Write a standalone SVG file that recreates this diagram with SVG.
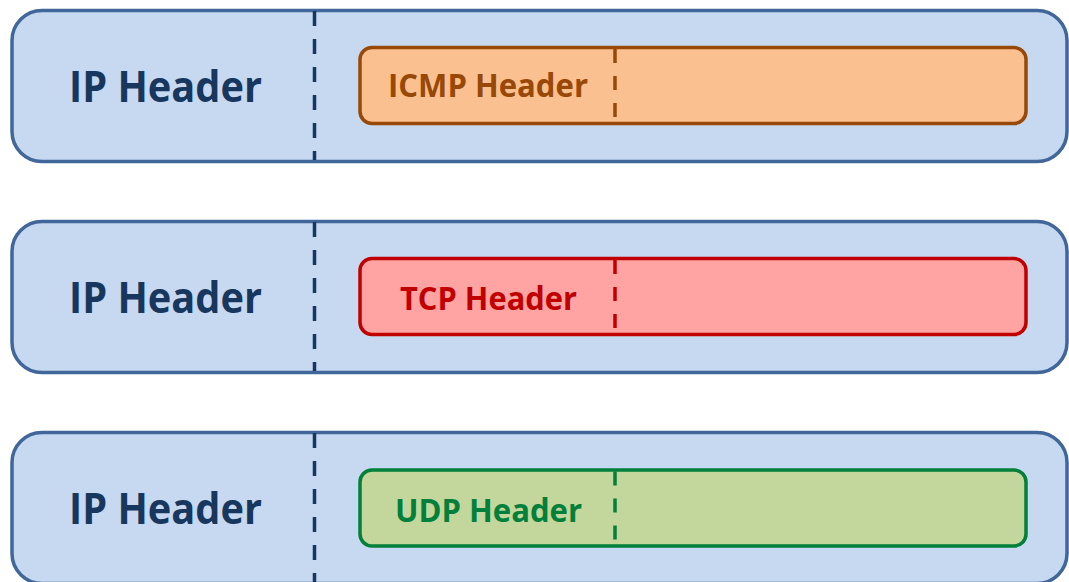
<svg xmlns="http://www.w3.org/2000/svg" width="1069" height="582" viewBox="0 0 1069 582">
  <style>
    .ip { fill: #C6D9F1; stroke: #41679A; stroke-width: 3.5; }
    .ipdiv { stroke: #17375E; stroke-width: 3.5; stroke-dasharray: 15 13; fill: none; }
    .iptxt { font-family: "Open Sans", "Liberation Sans", sans-serif; font-weight: bold; font-size: 43px; fill: #17375E; }
    .sub { stroke-width: 3.5; }
    .subdiv { stroke-width: 3.5; stroke-dasharray: 14 13; fill: none; }
    .subtxt { font-family: "Open Sans", "Liberation Sans", sans-serif; font-weight: bold; font-size: 32px; }
    .icmp { fill: #FAC090; stroke: #984807; }
    .tcp { fill: #FFA3A3; stroke: #C00000; }
    .udp { fill: #C3D69B; stroke: #00803A; }
  </style>

  <!-- Packet 1: IP + ICMP -->
  <g id="packet-icmp">
    <rect class="ip" x="12" y="10.5" width="1055" height="151" rx="30"/>
    <line class="ipdiv" x1="314.5" y1="11" x2="314.5" y2="160"/>
    <text class="iptxt" x="69" y="102" textLength="193" lengthAdjust="spacingAndGlyphs">IP Header</text>
    <g id="icmp-header">
      <rect class="sub icmp" x="360" y="47.5" width="666" height="76" rx="12"/>
      <line class="subdiv icmp" x1="615" y1="49" x2="615" y2="122"/>
      <text class="subtxt" fill="#984807" x="388" y="97" textLength="200" lengthAdjust="spacingAndGlyphs">ICMP Header</text>
    </g>
  </g>

  <!-- Packet 2: IP + TCP -->
  <g id="packet-tcp">
    <rect class="ip" x="12" y="221.5" width="1055" height="151" rx="30"/>
    <line class="ipdiv" x1="314.5" y1="222" x2="314.5" y2="371"/>
    <text class="iptxt" x="69" y="313" textLength="193" lengthAdjust="spacingAndGlyphs">IP Header</text>
    <g id="tcp-header">
      <rect class="sub tcp" x="360" y="258.5" width="666" height="76" rx="12"/>
      <line class="subdiv tcp" x1="615" y1="260" x2="615" y2="333"/>
      <text class="subtxt" fill="#C00000" x="400" y="310" textLength="177" lengthAdjust="spacingAndGlyphs">TCP Header</text>
    </g>
  </g>

  <!-- Packet 3: IP + UDP -->
  <g id="packet-udp">
    <rect class="ip" x="12" y="432.5" width="1055" height="151" rx="30"/>
    <line class="ipdiv" x1="314.5" y1="433" x2="314.5" y2="582"/>
    <text class="iptxt" x="69" y="524" textLength="193" lengthAdjust="spacingAndGlyphs">IP Header</text>
    <g id="udp-header">
      <rect class="sub udp" x="360" y="470" width="666" height="76" rx="12"/>
      <line class="subdiv udp" x1="615" y1="471.5" x2="615" y2="544.5"/>
      <text class="subtxt" fill="#00803A" x="395" y="522" textLength="187" lengthAdjust="spacingAndGlyphs">UDP Header</text>
    </g>
  </g>

  <g id="connectors"/>
</svg>
